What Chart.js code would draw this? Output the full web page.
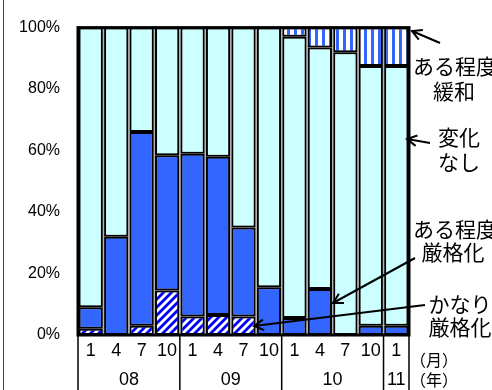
<!DOCTYPE html>
<html>
<head>
<meta charset="utf-8">
<script src="https://cdn.jsdelivr.net/npm/chart.js@4"></script>
<style>
  body { margin: 0; background: #fff; }
  #wrap { width: 492px; height: 390px; }
</style>
</head>
<body>
<div id="wrap"><canvas id="canvas" width="492" height="390"></canvas></div>
<script>
// data
const months = ["1", "4", "7", "10", "1", "4", "7", "10", "1", "4", "7", "10", "1"];
const years = ["08", "09", "10", "11"];
const yearStart = [0, 4, 8, 12];
const yearEnd = [3, 7, 11, 12];

const kanariGenkaku = [2, 0, 3, 14.5, 6, 6.5, 6, 0, 0, 0, 0, 0, 0];
const teidoGenkaku = [7, 32, 63, 44, 53, 51.5, 29, 15.5, 5.5, 15, 0, 3, 3];
const henkaNashi = [91, 68, 34, 41.5, 41, 42, 65, 84.5, 91.5, 78.5, 92, 84.5, 84.5];
const teidoKanwa = [0, 0, 0, 0, 0, 0, 0, 0, 3, 6.5, 8, 12.5, 12.5];

// patterns
function hatch() {
  const c = document.createElement("canvas");
  c.width = 8; c.height = 8;
  const g = c.getContext("2d");
  g.fillStyle = "#fff";
  g.fillRect(0, 0, 8, 8);
  g.strokeStyle = "#0000ff";
  g.lineWidth = 2.8;
  g.beginPath();
  g.moveTo(-2, 10); g.lineTo(10, -2);
  g.moveTo(-6, 6); g.lineTo(6, -6);
  g.moveTo(2, 14); g.lineTo(14, 2);
  g.stroke();
  return g.createPattern(c, "repeat");
}
function vstripe() {
  const c = document.createElement("canvas");
  c.width = 7; c.height = 7;
  const g = c.getContext("2d");
  g.fillStyle = "#fff";
  g.fillRect(0, 0, 7, 7);
  g.fillStyle = "#3366ff";
  g.fillRect(0, 0, 3, 7);
  return g.createPattern(c, "repeat");
}

const font = "'Liberation Sans', Arial, sans-serif";
const jfont = "'Noto Sans CJK JP', sans-serif";

function arrow(ctx, x1, y1, x2, y2) {
  const a = Math.atan2(y2 - y1, x2 - x1);
  ctx.beginPath();
  ctx.moveTo(x1, y1);
  ctx.lineTo(x2, y2);
  ctx.moveTo(x2 - 11 * Math.cos(a - 0.5), y2 - 11 * Math.sin(a - 0.5));
  ctx.lineTo(x2, y2);
  ctx.lineTo(x2 - 11 * Math.cos(a + 0.5), y2 - 11 * Math.sin(a + 0.5));
  ctx.stroke();
}

const decor = {
  id: "decor",
  beforeDatasetsDraw(chart) {
    const { ctx, chartArea: a } = chart;
    ctx.save();
    ctx.fillStyle = "#b4b4b4";
    ctx.fillRect(a.left, a.top, a.right - a.left, a.bottom - a.top);
    ctx.restore();
  },
  afterDraw(chart) {
    const { ctx, chartArea: a } = chart;
    const x = chart.scales.x;
    ctx.save();
    // frame line on the left edge
    ctx.strokeStyle = "#444";
    ctx.lineWidth = 1;
    ctx.beginPath();
    ctx.moveTo(3.5, 0); ctx.lineTo(3.5, 390);
    ctx.stroke();

    // thick plot border
    ctx.strokeStyle = "#000";
    ctx.lineWidth = 3;
    ctx.strokeRect(a.left, a.top, a.right - a.left, a.bottom - a.top);

    // separators under plot
    ctx.lineWidth = 1.5;
    const seps = [a.left, a.right];
    for (let i = 1; i < yearStart.length; i++) {
      seps.push((x.getPixelForValue(yearStart[i] - 1) + x.getPixelForValue(yearStart[i])) / 2);
    }
    ctx.beginPath();
    seps.forEach((sx) => { ctx.moveTo(sx, a.bottom); ctx.lineTo(sx, 390); });
    ctx.stroke();

    // year labels
    ctx.fillStyle = "#000";
    ctx.font = "18px " + font;
    ctx.textAlign = "center";
    ctx.textBaseline = "middle";
    years.forEach((y, i) => {
      const cx = (x.getPixelForValue(yearStart[i]) + x.getPixelForValue(yearEnd[i])) / 2;
      ctx.fillText(y, cx, 380);
    });

    // unit labels
    ctx.font = "16px " + jfont;
    ctx.textAlign = "left";
    ctx.fillText("（月）", 410, 360);
    ctx.fillText("（年）", 410, 380);

    // series annotations
    ctx.font = "21px " + jfont;
    ctx.textAlign = "center";
    ctx.fillText("ある程度", 455, 66);
    ctx.fillText("緩和", 454, 91);
    ctx.fillText("変化", 459, 137);
    ctx.fillText("なし", 459, 162);
    ctx.fillText("ある程度", 455, 229);
    ctx.fillText("厳格化", 453, 252);
    ctx.fillText("かなり", 460, 304);
    ctx.fillText("厳格化", 460, 327);

    ctx.lineWidth = 2;
    arrow(ctx, 440, 43, 412, 31);
    arrow(ctx, 430, 143, 407, 139);
    arrow(ctx, 415, 258, 333, 303);
    arrow(ctx, 425, 305, 254, 326);
    ctx.restore();
  },
};

const common = { borderColor: "#000", borderWidth: 2, borderSkipped: false, barPercentage: 0.95, categoryPercentage: 1 };

const config = {
  type: "bar",
  data: {
    labels: months,
    datasets: [
      { label: "かなり厳格化", data: kanariGenkaku, backgroundColor: hatch(), ...common },
      { label: "ある程度厳格化", data: teidoGenkaku, backgroundColor: "#3366ff", ...common },
      { label: "変化なし", data: henkaNashi, backgroundColor: "#ccffff", ...common },
      { label: "ある程度緩和", data: teidoKanwa, backgroundColor: vstripe(), ...common },
    ],
  },
  options: {
    responsive: false,
    animation: false,
    layout: { padding: { top: 18, right: 83, bottom: 0, left: 0 } },
    plugins: { legend: { display: false }, tooltip: { enabled: false } },
    scales: {
      x: {
        stacked: true,
        grid: { display: false, drawTicks: false },
        border: { display: false },
        ticks: { color: "#000", font: { family: font, size: 18 }, padding: 5, maxRotation: 0, autoSkip: false },
        afterFit(scale) { scale.height = 55; },
      },
      y: {
        stacked: true,
        min: 0,
        max: 100,
        grid: { display: false, drawTicks: false },
        border: { display: false },
        ticks: {
          stepSize: 20,
          color: "#000",
          font: { family: font, size: 16 },
          padding: 18,
          callback: (v) => v + "%",
        },
        afterFit(scale) { scale.width = 78; },
      },
    },
  },
  plugins: [decor],
};

const myChart = new Chart(document.getElementById("canvas"), config);
</script>
</body>
</html>
